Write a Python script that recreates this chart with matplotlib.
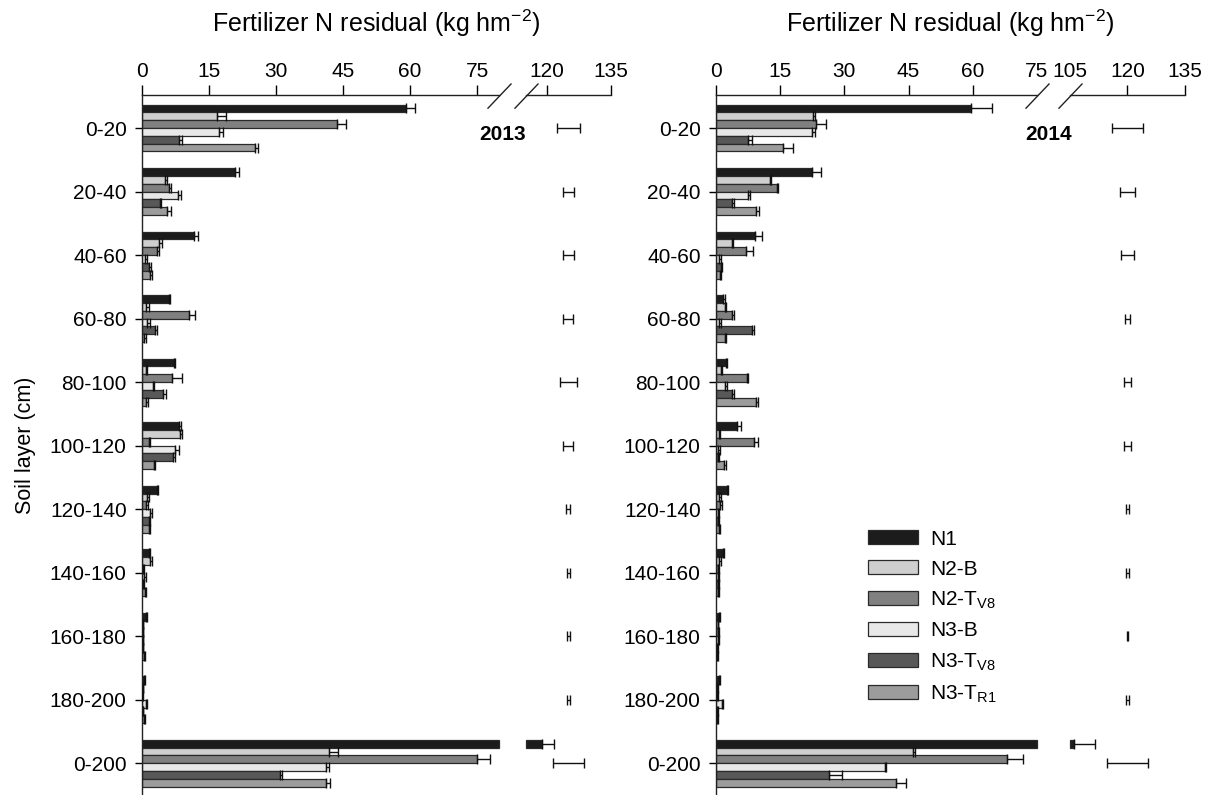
import numpy as np
import matplotlib
matplotlib.use('Agg')
import matplotlib.pyplot as plt

plt.rcParams['font.family'] = ['Liberation Sans', 'DejaVu Sans']
plt.rcParams['mathtext.fontset'] = 'custom'
plt.rcParams['mathtext.rm'] = 'Liberation Sans'
plt.rcParams['mathtext.it'] = 'Liberation Sans:italic'
plt.rcParams['mathtext.bf'] = 'Liberation Sans:bold'

layers = ['0-20', '20-40', '40-60', '60-80', '80-100', '100-120',
          '120-140', '140-160', '160-180', '180-200', '0-200']
treatments = ['N1', 'N2-B', 'N2-T$_{\\mathrm{V8}}$', 'N3-B',
              'N3-T$_{\\mathrm{V8}}$', 'N3-T$_{\\mathrm{R1}}$']
colors = ['#1c1c1c', '#cfcfcf', '#808080', '#e8e8e8', '#585858', '#9c9c9c']

# 2013
n1_2013 = [59.1, 20.9, 11.7, 6.0, 7.1, 8.3, 3.4, 1.6, 0.9, 0.4, 118.8]
n2b_2013 = [16.7, 5.1, 3.9, 1.0, 0.9, 8.4, 1.2, 1.9, 0.2, 0.2, 41.9]
n2t_2013 = [43.7, 6.1, 3.3, 10.6, 6.8, 1.6, 1.0, 0.3, 0.2, 0.1, 74.9]
n3b_2013 = [17.3, 8.0, 0.6, 1.2, 2.4, 7.4, 1.9, 0.5, 0.2, 0.9, 41.2]
n3t_2013 = [8.3, 4.0, 1.6, 2.8, 4.6, 6.9, 1.5, 0.3, 0.2, 0.2, 31.0]
n3r_2013 = [25.4, 5.7, 1.7, 0.5, 1.0, 2.7, 1.5, 0.7, 0.4, 0.4, 41.2]

n1_2013_se = [2.0, 0.9, 0.8, 0.3, 0.2, 0.4, 0.2, 0.2, 0.2, 0.2, 2.9]
n2b_2013_se = [2.0, 0.6, 0.5, 0.5, 0.3, 0.5, 0.3, 0.4, 0.1, 0.1, 2.0]
n2t_2013_se = [2.0, 0.4, 0.6, 1.3, 2.2, 0.2, 0.3, 0.1, 0.1, 0.1, 3.0]
n3b_2013_se = [0.8, 0.7, 0.6, 0.7, 0.3, 0.9, 0.4, 0.3, 0.1, 0.3, 0.6]
n3t_2013_se = [0.6, 0.3, 0.5, 0.5, 0.8, 0.4, 0.3, 0.1, 0.1, 0.1, 0.3]
n3r_2013_se = [0.6, 0.7, 0.5, 0.5, 0.4, 0.1, 0.4, 0.2, 0.2, 0.2, 0.9]

lsd_2013 = [2.65, 1.3, 1.3, 1.2, 2.0, 1.2, 0.5, 0.4, 0.4, 0.4, 3.6]

# 2014
n1_2014 = [59.7, 22.4, 9.1, 1.6, 2.3, 5.0, 2.6, 1.6, 0.8, 0.7, 106.0]
n2b_2014 = [22.6, 12.6, 3.7, 2.0, 1.1, 0.7, 0.8, 0.8, 0.4, 0.3, 46.1]
n2t_2014 = [23.4, 14.2, 6.9, 3.8, 7.2, 8.9, 0.9, 0.5, 0.5, 0.3, 67.9]
n3b_2014 = [22.4, 7.4, 0.6, 0.6, 2.1, 0.5, 0.4, 0.4, 0.5, 1.3, 39.5]
n3t_2014 = [7.4, 3.8, 1.2, 8.5, 3.7, 0.4, 0.4, 0.4, 0.3, 0.3, 26.5]
n3r_2014 = [15.7, 9.3, 0.9, 2.0, 9.3, 1.9, 0.8, 0.4, 0.3, 0.3, 42.1]

n1_2014_se = [4.9, 2.1, 1.6, 0.4, 0.2, 0.8, 0.3, 0.2, 0.2, 0.2, 5.5]
n2b_2014_se = [0.5, 0.3, 0.3, 0.4, 0.4, 0.2, 0.3, 0.3, 0.1, 0.1, 0.3]
n2t_2014_se = [2.2, 0.4, 1.7, 0.3, 0.2, 0.8, 0.4, 0.3, 0.3, 0.1, 3.8]
n3b_2014_se = [0.7, 0.5, 0.6, 0.6, 0.4, 0.4, 0.3, 0.3, 0.3, 0.3, 0.3]
n3t_2014_se = [1.1, 0.5, 0.2, 0.4, 0.6, 0.2, 0.2, 0.2, 0.1, 0.1, 2.9]
n3r_2014_se = [2.2, 0.8, 0.3, 0.4, 0.6, 0.5, 0.2, 0.2, 0.1, 0.1, 2.4]

lsd_2014 = [4.0, 2.0, 1.8, 0.6, 0.8, 1.0, 0.5, 0.5, 0.2, 0.5, 5.4]

fig = plt.figure(figsize=(12.16, 7.95), dpi=100)
ax1 = fig.add_axes([142 / 1216, 0, 469 / 1216, 700 / 795])
ax2 = fig.add_axes([716 / 1216, 0, 469 / 1216, 700 / 795])

pos = np.arange(len(layers))
h = 0.123


def panel(ax, means, errs, lsd, lsd_x, brk, kx, ku, ticks, minor_ticks, year, year_x):
    fwd = lambda x: np.interp(x, kx, ku)
    inv = lambda u: np.interp(u, ku, kx)
    ax.set_xscale('function', functions=(fwd, inv))

    handles = []
    for i in range(6):
        v = np.array(means[i])
        e = np.array(errs[i])
        y = pos + (i - 2.5) * h
        big = v > brk[1]
        wl = np.where(big, brk[0], v)
        b = ax.barh(y, wl, height=h, color=colors[i], edgecolor='#2a2a2a', linewidth=0.9, zorder=2)
        handles.append(b)
        if big.any():
            ax.barh(y[big], v[big] - brk[1], left=brk[1], height=h, color=colors[i],
                    edgecolor='#2a2a2a', linewidth=0.9, zorder=2)
        ax.errorbar(v, y, xerr=[np.zeros_like(e), e], fmt='none', ecolor='#111111',
                    elinewidth=1.0, capsize=3.5, capthick=1.0, zorder=3)

    ax.errorbar(np.full(len(pos), lsd_x), pos, xerr=lsd, fmt='none', ecolor='#111111',
                elinewidth=1.0, capsize=3.5, capthick=1.0, zorder=3)

    ax.set_xlim(0, 135)
    ax.set_ylim(10.5, -0.52)
    ax.xaxis.tick_top()
    ax.xaxis.set_label_position('top')
    ax.set_xticks(ticks)
    ax.set_xticklabels([str(t) for t in ticks])
    if minor_ticks:
        ax.set_xticks(minor_ticks, labels=[str(t) for t in minor_ticks], minor=True)
    ax.tick_params(axis='x', which='major', top=True, bottom=False, labeltop=True,
                   labelbottom=False, direction='out', length=7, width=1, labelsize=15, pad=3)
    ax.tick_params(axis='x', which='minor', top=True, bottom=False, labeltop=True,
                   labelbottom=False, length=0, labelsize=15, pad=10)
    ax.set_yticks(pos)
    ax.set_yticklabels(layers)
    ax.tick_params(axis='y', direction='out', length=5, width=1, labelsize=15, pad=6)
    ax.set_xlabel('Fertilizer N residual (kg hm$^{-2}$)', fontsize=18, labelpad=22)

    ax.spines['right'].set_visible(False)
    ax.spines['bottom'].set_visible(False)
    ax.spines['top'].set_bounds(0, brk[0])
    for s in ('top', 'left'):
        ax.spines[s].set_linewidth(1.0)
        ax.spines[s].set_color('#222222')
    tr = ax.get_xaxis_transform()
    ax.plot([brk[1], 135], [1, 1], transform=tr, color='#222222', lw=1.0, clip_on=False)
    ax.plot([brk[0], brk[1]], [1, 1], transform=tr, ls='none',
            marker=[(-1, -1.1), (1, 1)], ms=19, mec='#222222', mew=1.0, clip_on=False)

    ax.text(year_x, 0.944, year, transform=ax.transAxes, ha='center', va='center',
            fontsize=15, fontweight='bold')
    return handles


panel(ax1,
      [n1_2013, n2b_2013, n2t_2013, n3b_2013, n3t_2013, n3r_2013],
      [n1_2013_se, n2b_2013_se, n2t_2013_se, n3b_2013_se, n3t_2013_se, n3r_2013_se],
      lsd_2013, 125, (80, 115), [0, 80, 115, 135], [0, 80, 85.9, 105.0],
      [0, 15, 30, 45, 60, 75, 120, 135], None, '2013', 0.768)

hs = panel(ax2,
           [n1_2014, n2b_2014, n2t_2014, n3b_2014, n3t_2014, n3r_2014],
           [n1_2014_se, n2b_2014_se, n2t_2014_se, n3b_2014_se, n3t_2014_se, n3r_2014_se],
           lsd_2014, 120, (75, 105), [0, 75, 105, 135], [0, 75, 82.7, 109.6],
           [0, 15, 30, 45, 60, 120, 135], [75, 105], '2014', 0.710)

ax1.set_ylabel('Soil layer (cm)', fontsize=15.5, labelpad=10)

ax2.legend(hs, treatments, loc='upper left', bbox_to_anchor=(0.324, 0.379),
           frameon=False, fontsize=15, handlelength=2.4, handleheight=0.67,
           handletextpad=0.6, labelspacing=0.52, borderpad=0, borderaxespad=0)

fig.savefig('out.png', dpi=100)
